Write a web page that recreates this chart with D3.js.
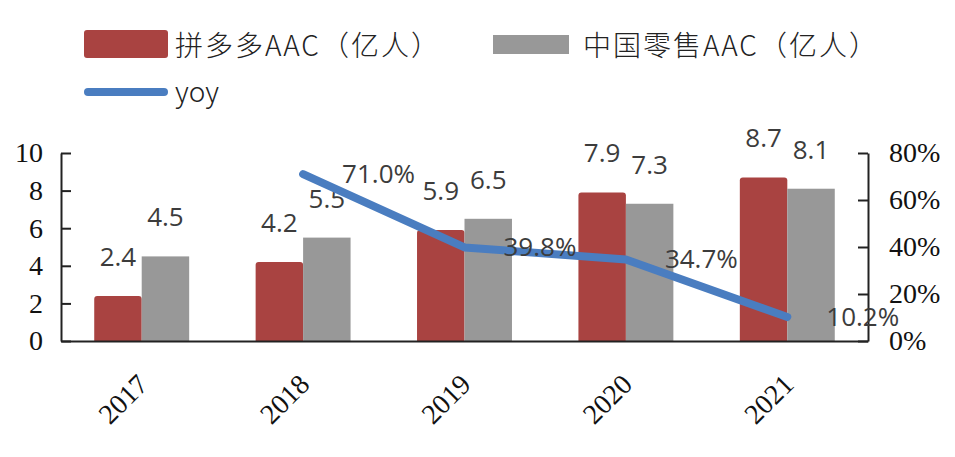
<!DOCTYPE html>
<html>
<head>
<meta charset="utf-8">
<script src="https://cdn.jsdelivr.net/npm/d3@7"></script>
<style>
  body { margin: 0; background: #fff; }
  .axis path, .axis line { stroke: #222; stroke-width: 2; }
  .axis text { font-family: "Liberation Serif", "DejaVu Serif", serif; font-size: 28px; fill: #111; }
  .valueLabel { font-family: "Open Sans", "Noto Sans", sans-serif; font-size: 26px; fill: #3c3c3c; }
  .legendText { font-family: "Noto Sans CJK SC", "Noto Sans", sans-serif; font-size: 28px; font-weight: 300; fill: #222; }
</style>
</head>
<body>
<div id="chart"></div>
<script>
// data
const years = ['2017', '2018', '2019', '2020', '2021'];
const pddAAC = [2.4, 4.2, 5.9, 7.9, 8.7];      // 拼多多AAC（亿人）
const chinaAAC = [4.5, 5.5, 6.5, 7.3, 8.1];    // 中国零售AAC（亿人）
const yoyYears = ['2018', '2019', '2020', '2021'];
const yoy = [0.710, 0.398, 0.347, 0.102];
const leftTicks = [0, 2, 4, 6, 8, 10];
const rightTicks = [0, 0.2, 0.4, 0.6, 0.8];
const seriesNames = ['拼多多AAC（亿人）', '中国零售AAC（亿人）', 'yoy'];

const width = 955, height = 457;
const margin = { top: 153, right: 87, bottom: 116, left: 61 };
const red = '#a94341', grey = '#989898', blue = '#4a7dc0';

let svg = d3.select('#chart').append('svg')
  .attr('width', width)
  .attr('height', height);

let x0 = d3.scaleBand()
  .domain(years)
  .range([margin.left, width - margin.right]);

let x1 = d3.scaleBand()
  .domain(['pdd', 'china'])
  .range([0, x0.bandwidth()])
  .paddingOuter(0.7);

let y = d3.scaleLinear()
  .domain([0, 10])
  .range([height - margin.bottom, margin.top]);

let yRight = d3.scaleLinear()
  .domain([0, 0.8])
  .range([height - margin.bottom, margin.top]);

// bars
let groups = svg.selectAll('g.year')
  .data(years)
  .enter()
  .append('g')
  .attr('class', 'year')
  .attr('transform', d => `translate(${x0(d)},0)`);

groups.append('path')
  .attr('fill', red)
  .attr('d', (d, i) => {
    let bx = x1('pdd'), bw = x1.bandwidth(), top = y(pddAAC[i]), base = y(0), r = 3;
    return `M${bx},${base}V${top + r}Q${bx},${top} ${bx + r},${top}H${bx + bw - r}Q${bx + bw},${top} ${bx + bw},${top + r}V${base}Z`;
  });

groups.append('rect')
  .attr('fill', grey)
  .attr('x', x1('china'))
  .attr('width', x1.bandwidth())
  .attr('y', (d, i) => y(chinaAAC[i]))
  .attr('height', (d, i) => y(0) - y(chinaAAC[i]));

groups.append('text')
  .attr('class', 'valueLabel')
  .attr('x', x1('pdd') + x1.bandwidth() / 2)
  .attr('y', (d, i) => y(pddAAC[i]) - 30)
  .style('text-anchor', 'middle')
  .text((d, i) => pddAAC[i].toFixed(1));

groups.append('text')
  .attr('class', 'valueLabel')
  .attr('x', x1('china') + x1.bandwidth() / 2)
  .attr('y', (d, i) => y(chinaAAC[i]) - 30)
  .style('text-anchor', 'middle')
  .text((d, i) => chinaAAC[i].toFixed(1));

// axes
svg.append('g')
  .attr('class', 'axis yAxis')
  .attr('transform', `translate(${margin.left},0)`)
  .call(d3.axisLeft(y).tickValues(leftTicks).tickSize(-10).tickSizeOuter(0).tickPadding(18));

svg.append('g')
  .attr('class', 'axis yAxisRight')
  .attr('transform', `translate(${width - margin.right},0)`)
  .call(d3.axisRight(yRight).tickValues(rightTicks).tickSize(-10).tickSizeOuter(0)
    .tickPadding(21).tickFormat(d3.format('.0%')));

let xAxis = svg.append('g')
  .attr('class', 'axis xAxis')
  .attr('transform', `translate(0,${height - margin.bottom})`)
  .call(d3.axisBottom(x0).tickSize(0).tickSizeOuter(0));

xAxis.selectAll('text')
  .attr('y', 0)
  .attr('dy', 0)
  .attr('transform', 'translate(8,45) rotate(-45)')
  .style('text-anchor', 'end');

// yoy line
let line = d3.line()
  .x((d, i) => x0(yoyYears[i]) + x0.bandwidth() / 2)
  .y(d => yRight(d));

svg.append('path')
  .datum(yoy)
  .attr('fill', 'none')
  .attr('stroke', blue)
  .attr('stroke-width', 8)
  .attr('stroke-linecap', 'round')
  .attr('stroke-linejoin', 'round')
  .attr('d', line);

svg.selectAll('text.yoyLabel')
  .data(yoy)
  .enter()
  .append('text')
  .attr('class', 'valueLabel yoyLabel')
  .attr('x', (d, i) => x0(yoyYears[i]) + x0.bandwidth() / 2 + 39)
  .attr('y', d => yRight(d) + 9)
  .text(d => d3.format('.1%')(d));

// legend
let legend = svg.append('g').attr('class', 'legend');

legend.append('rect')
  .attr('x', 84).attr('y', 30)
  .attr('width', 84).attr('height', 28)
  .attr('rx', 3)
  .attr('fill', red);

legend.append('text')
  .attr('class', 'legendText')
  .attr('x', 175).attr('y', 56)
  .style('letter-spacing', '2px')
  .text(seriesNames[0]);

legend.append('rect')
  .attr('x', 493).attr('y', 35)
  .attr('width', 76).attr('height', 19)
  .attr('fill', grey);

legend.append('text')
  .attr('class', 'legendText')
  .attr('x', 583).attr('y', 56)
  .style('letter-spacing', '2px')
  .text(seriesNames[1]);

legend.append('line')
  .attr('x1', 88).attr('x2', 164)
  .attr('y1', 92).attr('y2', 92)
  .attr('stroke', blue)
  .attr('stroke-width', 8)
  .attr('stroke-linecap', 'round');

legend.append('text')
  .attr('class', 'legendText')
  .attr('x', 175).attr('y', 102)
  .text(seriesNames[2]);
</script>
</body>
</html>
